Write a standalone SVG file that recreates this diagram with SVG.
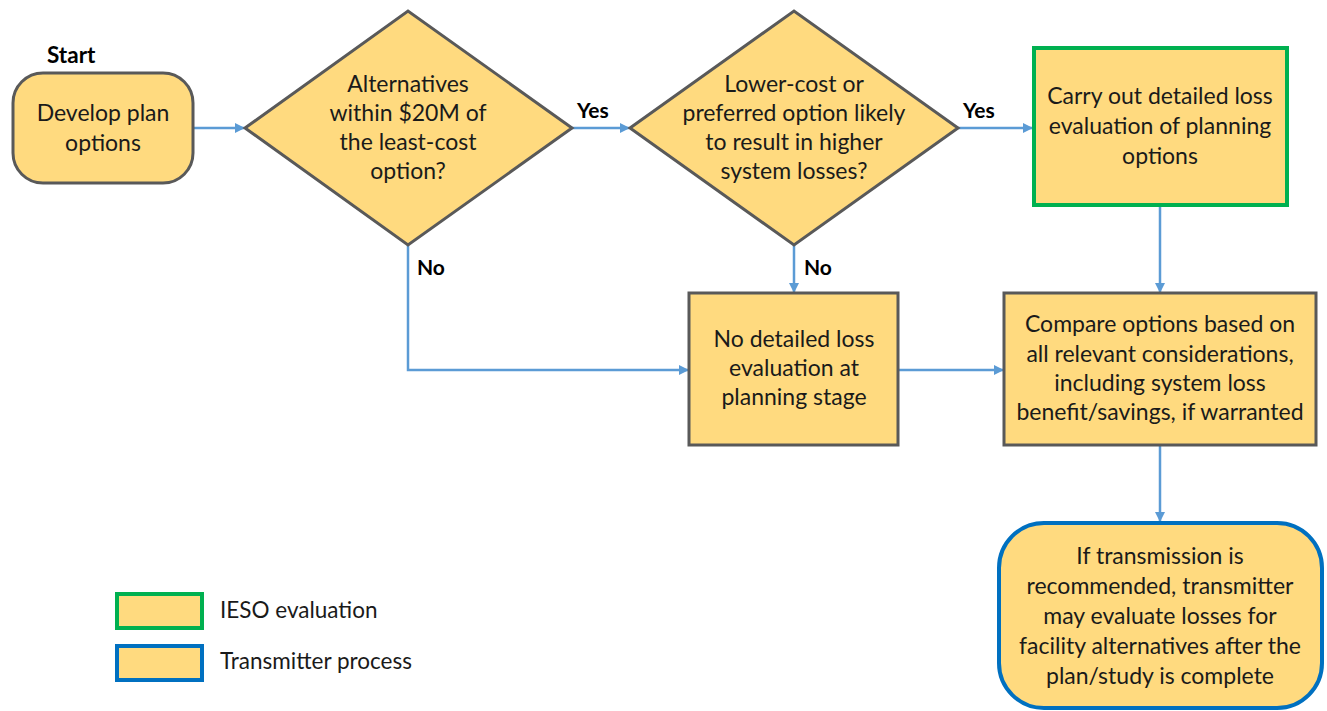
<svg xmlns="http://www.w3.org/2000/svg" width="1327" height="711" viewBox="0 0 1327 711">
<style>
.t{font-family:Lato,"Liberation Sans",sans-serif;font-size:23px;fill:#1a1a1a;text-anchor:middle}
.lbl{font-family:Lato,"Liberation Sans",sans-serif;font-size:21px;font-weight:bold;fill:#000}
.lg{font-family:Lato,"Liberation Sans",sans-serif;font-size:22.5px;fill:#1a1a1a}
.n{fill:#FFDA7F;stroke:#595959;stroke-width:3}
.g{fill:#FFDA7F;stroke:#00B050;stroke-width:4}
.b{fill:#FFDA7F;stroke:#0070C0;stroke-width:4}
.c{fill:none;stroke:#5B9BD5;stroke-width:2.5}
</style>
<defs>
<marker id="ah" markerWidth="10" markerHeight="10" refX="9" refY="5" orient="auto" markerUnits="userSpaceOnUse">
<path d="M0,0 L10,5 L0,10 z" fill="#5B9BD5"/>
</marker>
</defs>
<rect width="1327" height="711" fill="#fff"/>
<g id="connectors">
<path class="c" d="M193,128 H244" marker-end="url(#ah)"/>
<path class="c" d="M572,128 H629" marker-end="url(#ah)"/>
<path class="c" d="M958,128 H1032" marker-end="url(#ah)"/>
<path class="c" d="M1160,206 V292" marker-end="url(#ah)"/>
<path class="c" d="M794,245 V292" marker-end="url(#ah)"/>
<path class="c" d="M408,245 V370 H688" marker-end="url(#ah)"/>
<path class="c" d="M898,370 H1003" marker-end="url(#ah)"/>
<path class="c" d="M1160,445 V521" marker-end="url(#ah)"/>
<text class="lbl" x="577" y="118">Yes</text>
<text class="lbl" x="963" y="118">Yes</text>
<text class="lbl" x="417" y="275">No</text>
<text class="lbl" x="804" y="275">No</text>
</g>
<g id="start">
<text class="lbl" x="47" y="63" style="font-size:22.5px">Start</text>
<rect class="n" x="13" y="73" width="180" height="110" rx="30"/>
<text class="t" x="103" y="121">Develop plan</text>
<text class="t" x="103" y="151">options</text>
</g>
<g id="d1">
<polygon class="n" points="245,128 408,11 572,128 408,245"/>
<text class="t" x="408" y="92">Alternatives</text>
<text class="t" x="408" y="121">within $20M of</text>
<text class="t" x="408" y="150">the least-cost</text>
<text class="t" x="408" y="179">option?</text>
</g>
<g id="d2">
<polygon class="n" points="630,128 794,11 958,128 794,245"/>
<text class="t" x="794" y="92">Lower-cost or</text>
<text class="t" x="794" y="121">preferred option likely</text>
<text class="t" x="794" y="150">to result in higher</text>
<text class="t" x="794" y="179">system losses?</text>
</g>
<g id="detailed">
<rect class="g" x="1034" y="48" width="253" height="157"/>
<text class="t" x="1160" y="104">Carry out detailed loss</text>
<text class="t" x="1160" y="134">evaluation of planning</text>
<text class="t" x="1160" y="164">options</text>
</g>
<g id="nodetail">
<rect class="n" x="689" y="293" width="209" height="152"/>
<text class="t" x="794" y="347">No detailed loss</text>
<text class="t" x="794" y="376">evaluation at</text>
<text class="t" x="794" y="405">planning stage</text>
</g>
<g id="compare">
<rect class="n" x="1004" y="293" width="312" height="152"/>
<text class="t" x="1160" y="332">Compare options based on</text>
<text class="t" x="1160" y="362">all relevant considerations,</text>
<text class="t" x="1160" y="391">including system loss</text>
<text class="t" x="1160" y="420">benefit/savings, if warranted</text>
</g>
<g id="transmitter">
<rect class="b" x="999" y="523" width="323" height="185" rx="45"/>
<text class="t" x="1160" y="564">If transmission is</text>
<text class="t" x="1160" y="594">recommended, transmitter</text>
<text class="t" x="1160" y="624">may evaluate losses for</text>
<text class="t" x="1160" y="654">facility alternatives after the</text>
<text class="t" x="1160" y="684">plan/study is complete</text>
</g>
<g id="legend">
<rect class="g" x="117" y="594" width="85" height="34"/>
<text class="lg" x="220" y="618">IESO evaluation</text>
<rect class="b" x="117" y="646" width="85" height="34"/>
<text class="lg" x="220" y="669">Transmitter process</text>
</g>
</svg>
